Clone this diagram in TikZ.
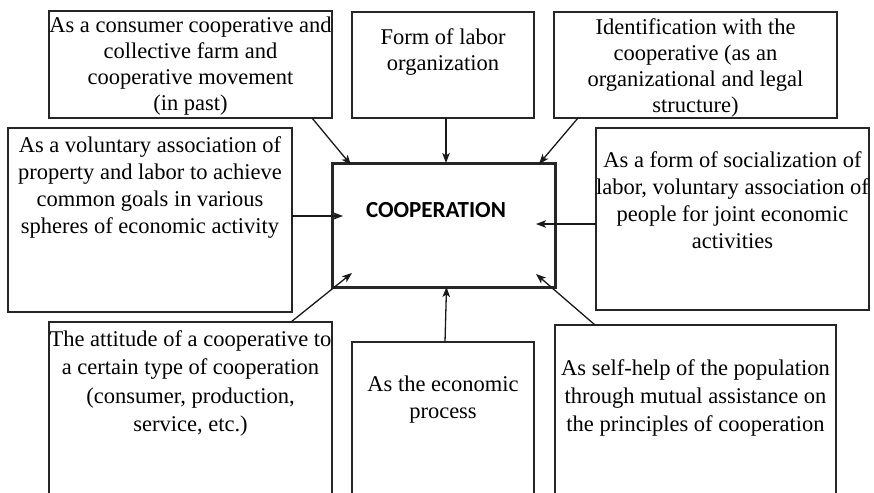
\documentclass[tikz,border=0pt]{standalone}
\usepackage{fontspec}
\setmainfont{Liberation Serif}
\newfontfamily\cjsans{Carlito}
\usetikzlibrary{arrows.meta,calc}
\begin{document}
\begin{tikzpicture}[x=1pt,y=-1pt,
  box/.style={draw=black!85, line width=1.1pt, anchor=north west, inner sep=0pt, outer sep=0pt},
  txt/.style={anchor=north, align=center, inner sep=0pt, font=\fontsize{22.5}{27}\selectfont, text=black},
  arr/.style={draw=black!90, line width=1.3pt, -{Stealth[length=10pt,width=7.5pt,inset=2.5pt]}}]
\useasboundingbox (0,0) rectangle (874,492);
\clip (0,0) rectangle (874,492);
\fill[white] (0,0) rectangle (874,492);
% boxes
\node[box, minimum width=283pt, minimum height=107pt] (A) at (49,11) {};
\node[box, minimum width=182pt, minimum height=106pt] (B) at (352,12) {};
\node[box, minimum width=283pt, minimum height=106pt] (C) at (554,12) {};
\node[box, minimum width=284pt, minimum height=184pt] (D) at (8,128) {};
\node[box, minimum width=273pt, minimum height=182pt] (E) at (596,128) {};
\node[box, line width=3pt, minimum width=223pt, minimum height=124pt] (X) at (332,163) {};
\node[box, minimum width=283pt, minimum height=200pt] (F) at (49,322) {};
\node[box, minimum width=182pt, minimum height=200pt] (G) at (352,342) {};
\node[box, minimum width=281pt, minimum height=200pt] (H) at (555,325) {};
% texts
\node[txt, font=\fontsize{22.5}{26}\selectfont] (At) at (190.5,17) {As a consumer cooperative and\\collective farm and\\cooperative movement\\(in past)};
\node[txt, font=\fontsize{22.5}{26}\selectfont] (Bt) at (443,28) {Form of labor\\organization};
\node[txt, font=\fontsize{22.5}{26}\selectfont] (Ct) at (695.5,18) {Identification with the\\cooperative (as an\\organizational and legal\\structure)};
\node[txt] (Dt) at (150,136) {As a voluntary association of\\property and labor to achieve\\common goals in various\\spheres of economic activity};
\node[txt] (Et) at (732.5,151) {As a form of socialization of\\labor, voluntary association of\\people for joint economic\\activities};
\node[txt, font=\fontsize{22.5}{28.5}\selectfont] (Ft) at (190.5,330) {The attitude of a cooperative to\\a certain type of cooperation\\(consumer, production,\\service, etc.)};
\node[txt] (Gt) at (443,376) {As the economic\\process};
\node[txt, font=\fontsize{22.5}{28}\selectfont] (Ht) at (695.5,359) {As self-help of the population\\through mutual assistance on\\the principles of cooperation};
\node[font=\cjsans\bfseries\fontsize{23}{27}\selectfont, text=black, inner sep=0pt] (Xt) at (436,210) {COOPERATION};
% arrows
\draw[arr] ($(A.south west)+(263,0)$) -- ($(X.north west)+(19,2)$);
\draw[arr] ($(B.south)+(3,0)$) -- ($(X.north)+(2.5,0)$);
\draw[arr] ($(C.south west)+(24,0)$) -- ($(X.north east)+(-16,1)$);
\draw[arr] (D.east |- 0,216) -- ($(X.west |- 0,216)+(11,0)$);
\draw[arr] (E.west |- 0,224) -- ($(X.east |- 0,224)+(-19,0)$);
\draw[arr] ($(F.north west)+(242,0)$) -- ($(X.south west)+(20,-14)$);
\draw[arr] ($(G.north)+(2,0)$) -- ($(X.south)+(3,0)$);
\draw[arr] ($(H.north west)+(40,0)$) -- ($(X.south east)+(-19,-13)$);
\end{tikzpicture}
\end{document}
